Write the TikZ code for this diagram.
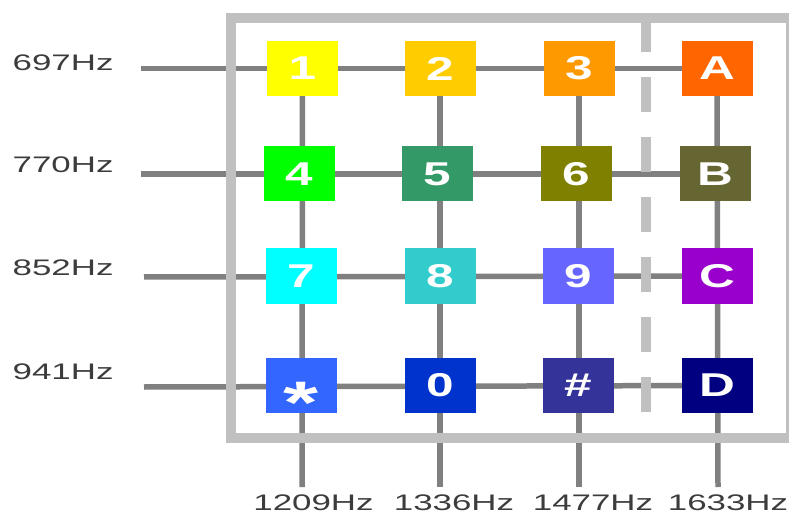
\documentclass[tikz,border=0pt]{standalone}
\usepackage{fontspec}
\newfontfamily\labfont[FakeStretch=1.55]{Liberation Sans}
\newfontfamily\keyfont[FakeStretch=1.5]{Liberation Sans}
\pgfdeclarelayer{bg}
\pgfsetlayers{bg,main}
\definecolor{labcol}{HTML}{3C3C3C}
\definecolor{gridcol}{HTML}{808080}
\definecolor{framecol}{HTML}{C0C0C0}
\definecolor{cA1}{HTML}{FFFF00}
\definecolor{cA2}{HTML}{FFCC00}
\definecolor{cA3}{HTML}{FF9900}
\definecolor{cA4}{HTML}{FF6600}
\definecolor{cB1}{HTML}{00FF00}
\definecolor{cB2}{HTML}{339966}
\definecolor{cB3}{HTML}{808000}
\definecolor{cB4}{HTML}{666633}
\definecolor{cC1}{HTML}{00FFFF}
\definecolor{cC2}{HTML}{33CCCC}
\definecolor{cC3}{HTML}{6666FF}
\definecolor{cC4}{HTML}{9900CC}
\definecolor{cD1}{HTML}{3366FF}
\definecolor{cD2}{HTML}{0033CC}
\definecolor{cD3}{HTML}{333399}
\definecolor{cD4}{HTML}{000080}
\tikzset{
  key/.style={minimum width=71bp, minimum height=55bp, inner sep=0pt, text=white,
    font=\keyfont\bfseries\fontsize{33bp}{33bp}\selectfont},
  gridline/.style={draw=gridcol, line width=5.5bp},
  frameline/.style={draw=framecol, line width=10bp},
  divider/.style={draw=framecol, line width=10bp, dash pattern=on 35bp off 25bp},
  rowlab/.style={anchor=base west, inner sep=0pt, text=labcol,
    font=\labfont\fontsize{22.5bp}{22.5bp}\selectfont},
  collab/.style={anchor=base, inner sep=0pt, text=labcol,
    font=\labfont\fontsize{22.5bp}{22.5bp}\selectfont}
}
\begin{document}
\begin{tikzpicture}[x=1bp,y=-1bp]
\useasboundingbox (0,0) rectangle (789,514);
% keys
\node[key, fill=cA1] (k1) at (302.5,68.5) {1};
\node[key, fill=cA2] (k2) at (440,68.5) {2};
\node[key, fill=cA3] (k3) at (579,68.5) {3};
\node[key, fill=cA4] (kA) at (717,68.5) {A};
\node[key, fill=cB1] (k4) at (299,174) {4};
\node[key, fill=cB2] (k5) at (437,174) {5};
\node[key, fill=cB3] (k6) at (576,174) {6};
\node[key, fill=cB4] (kB) at (715,174) {B};
\node[key, fill=cC1] (k7) at (301,276) {7};
\node[key, fill=cC2] (k8) at (440,276) {8};
\node[key, fill=cC3] (k9) at (578,276) {9};
\node[key, fill=cC4] (kC) at (717,276) {C};
\node[key, fill=cD1] (kS) at (301,385.5) {\smash{\raisebox{-38bp}{\fontsize{60bp}{60bp}\selectfont *}}};
\node[key, fill=cD2] (k0) at (440,385.5) {0};
\node[key, fill=cD3] (kH) at (578,385.5) {\#};
\node[key, fill=cD4] (kD) at (717,385.5) {D};
% line ends
\coordinate (r1) at (141,68.5);
\coordinate (r2) at (141,174);
\coordinate (r3) at (144,277);
\coordinate (r4) at (144,387);
\coordinate (c1) at (302,487);
\coordinate (c2) at (440,487);
\coordinate (c3) at (579,487);
\coordinate (c4) at (718,487);
\coordinate (f1) at (231,18);
\coordinate (f2) at (791,438);
\coordinate (d1) at (645.5,17);
\coordinate (d2) at (645.5,412);
\begin{pgfonlayer}{bg}
  \draw[gridline] (r1) -- (kA.center);
  \draw[gridline] (r2) -- (kB.center);
  \draw[gridline] (r3) -- (kC.center);
  \draw[gridline] (r4) -- (kD.center);
  \draw[gridline] (k1.center) -- (c1);
  \draw[gridline] (k2.center) -- (c2);
  \draw[gridline] (k3.center) -- (c3);
  \draw[gridline] (kA.center) -- (c4);
  \draw[frameline] (f1) rectangle (f2);
  \draw[divider] (d1) -- (d2);
\end{pgfonlayer}
% labels
\node[rowlab] (l697) at (12.5,71) {697Hz};
\node[rowlab] (l770) at (12.5,173) {770Hz};
\node[rowlab] (l852) at (12.5,276) {852Hz};
\node[rowlab] (l941) at (12.5,379) {941Hz};
\node[collab] (l1209) at (313.5,510) {1209Hz};
\node[collab] (l1336) at (454,510) {1336Hz};
\node[collab] (l1477) at (593,510) {1477Hz};
\node[collab] (l1633) at (728,510) {1633Hz};
\end{tikzpicture}
\end{document}
